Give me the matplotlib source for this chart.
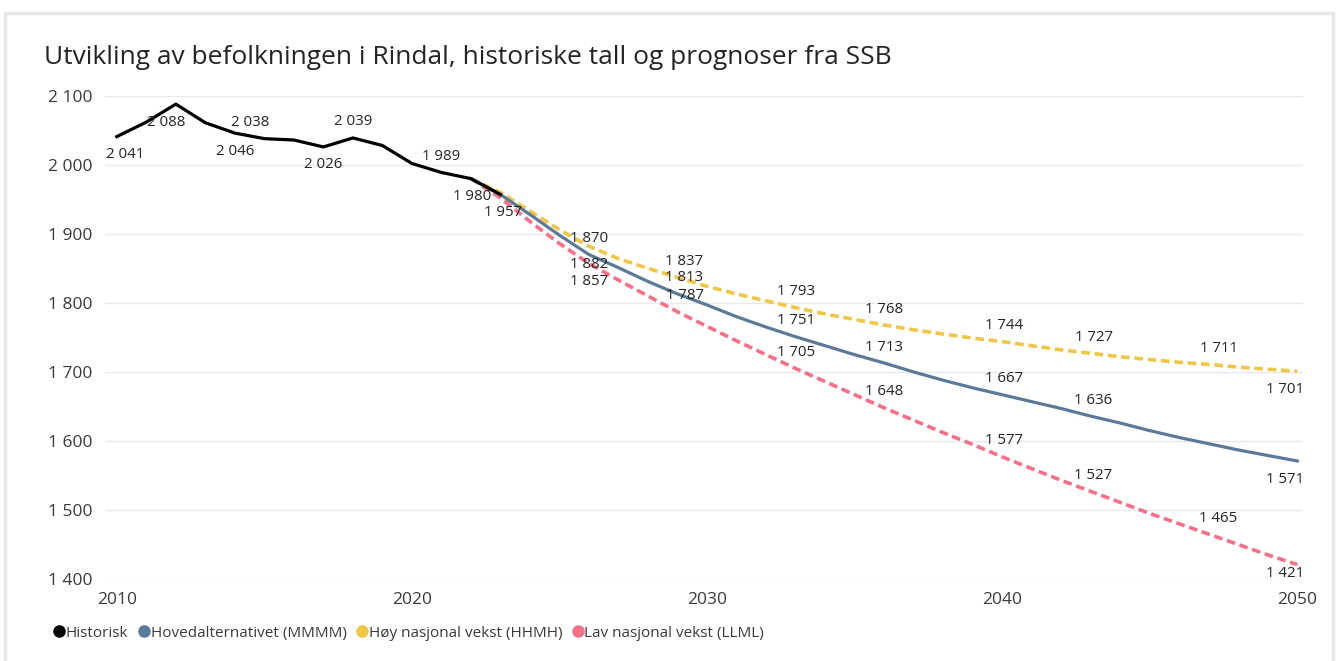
"""Befolkningsutvikling i Rindal: historiske tall og SSB-prognoser (gjenskaping)."""

import matplotlib
matplotlib.use("Agg")
import matplotlib.pyplot as plt
from matplotlib.lines import Line2D
from matplotlib.patches import Rectangle

plt.rcParams["font.family"] = ["Open Sans", "DejaVu Sans"]

TITLE = "Utvikling av befolkningen i Rindal, historiske tall og prognoser fra SSB"

# historiske tall
hist_years = list(range(2010, 2024))
hist_vals = [2041, 2062, 2088, 2061, 2046, 2038, 2036, 2026, 2039, 2028, 2002, 1989, 1980, 1957]

# prognoser (SSB 2022)
prog_years = list(range(2022, 2051))
main_vals = [1980, 1957, 1928, 1898, 1870, 1851, 1831, 1813, 1797, 1780, 1765, 1751, 1738, 1725,
             1713, 1700, 1688, 1677, 1667, 1657, 1647, 1636, 1626, 1615, 1605, 1596, 1587, 1579, 1571]
high_vals = [1980, 1960, 1933, 1906, 1882, 1864, 1850, 1837, 1824, 1813, 1803, 1793, 1784, 1776,
             1768, 1761, 1755, 1749, 1744, 1738, 1732, 1727, 1722, 1718, 1714, 1711, 1707, 1704, 1701]
low_vals = [1980, 1952, 1918, 1886, 1857, 1833, 1810, 1787, 1766, 1745, 1725, 1705, 1686, 1667,
            1648, 1630, 1612, 1595, 1577, 1560, 1543, 1527, 1511, 1495, 1480, 1465, 1450, 1435, 1421]

legend_names = ["Historisk", "Hovedalternativet (MMMM)", "Høy nasjonal vekst (HHMH)",
                "Lav nasjonal vekst (LLML)"]
y_ticks = [1400, 1500, 1600, 1700, 1800, 1900, 2000, 2100]
x_ticks = [2010, 2020, 2030, 2040, 2050]

# which years get a data label
hist_label_years = [2010, 2012, 2014, 2015, 2017, 2018, 2021, 2022, 2023]
main_label_years = [2026, 2029, 2033, 2036, 2040, 2043, 2050]
high_label_years = [2026, 2029, 2033, 2036, 2040, 2043, 2047, 2050]
low_label_years = [2026, 2029, 2033, 2036, 2040, 2043, 2047, 2050]

C_HIST = "#000000"
C_MAIN = "#5b7a99"
C_HIGH = "#f2c645"
C_LOW = "#f86f87"
TXT = "#252423"


def fmt(v):
    return f"{v:,}".replace(",", " ")


fig = plt.figure(figsize=(13.38, 6.61), dpi=100)
fig.patches.append(Rectangle((0.004, -0.02), 0.992, 1.0, transform=fig.transFigure,
                             fill=False, edgecolor="#e6e9ec", lw=2.5))
ax = fig.add_axes([0.0785, 0.124, 0.8955, 0.731])

dash = (0, (2.4, 1.3))
ax.plot(prog_years, low_vals, color=C_LOW, lw=2.6, ls=dash, zorder=3)
ax.plot(prog_years, high_vals, color=C_HIGH, lw=2.6, ls=dash, zorder=3)
ax.plot(prog_years, main_vals, color=C_MAIN, lw=2.3, zorder=4)
ax.plot(hist_years, hist_vals, color=C_HIST, lw=2.3, zorder=5)


def put(years, vals, yr, dx, dy):
    v = vals[years.index(yr)]
    ax.annotate(fmt(v), (yr, v), xytext=(dx, dy), textcoords="offset points",
                ha="center", va="center", fontsize=10.8, color=TXT, zorder=6)


# label offsets in points (above > 0, below < 0)
up, dn = 11.5, -13
hist_off = {2010: (6, dn), 2012: (-7, dn), 2014: (0, dn), 2015: (-10, up), 2017: (0, dn),
            2018: (0, up), 2021: (0, up), 2022: (1, dn), 2023: (2, dn)}
for yr in hist_label_years:
    put(hist_years, hist_vals, yr, *hist_off[yr])


def prog_off(yr, above):
    dx = {2026: 0, 2029: 5, 2033: 0, 2036: 0, 2040: 1, 2043: 2, 2047: 7, 2050: -9}[yr]
    return dx, (up if above else dn)


for yr in main_label_years:
    put(prog_years, main_vals, yr, *prog_off(yr, yr != 2050))
for yr in high_label_years:
    put(prog_years, high_vals, yr, *prog_off(yr, yr not in (2026, 2050)))
for yr in low_label_years:
    if yr == 2050:
        put(prog_years, low_vals, yr, -9, -6.5)   # kept inside the plot area
    else:
        put(prog_years, low_vals, yr, *prog_off(yr, yr != 2026))

ax.set_xlim(2009.6, 2050.2)
ax.set_ylim(1400, 2100)
ax.set_yticks(y_ticks)
ax.set_yticklabels([fmt(t) for t in y_ticks])
ax.set_xticks(x_ticks)
ax.set_xticklabels([str(t) for t in x_ticks])
ax.tick_params(length=0, labelsize=12.5, labelcolor="#3a3a3a")
ax.tick_params(axis="y", pad=9)
ax.tick_params(axis="x", pad=9)
ax.grid(axis="y", color="#e6eaee", lw=1)
ax.set_axisbelow(True)
for s in ax.spines.values():
    s.set_visible(False)

fig.text(0.033, 0.913, TITLE, fontsize=19, color="#252423", va="center", ha="left")

handles = [Line2D([], [], ls="none", marker="o", ms=8, color=c)
           for c in (C_HIST, C_MAIN, C_HIGH, C_LOW)]
fig.legend(handles, legend_names, loc="center left", bbox_to_anchor=(0.031, 0.042), ncol=4,
           frameon=False, fontsize=11, handlelength=0.55, handletextpad=0.15, columnspacing=0.75,
           labelcolor="#3a3a3a")

fig.savefig("out.png", dpi=100)
